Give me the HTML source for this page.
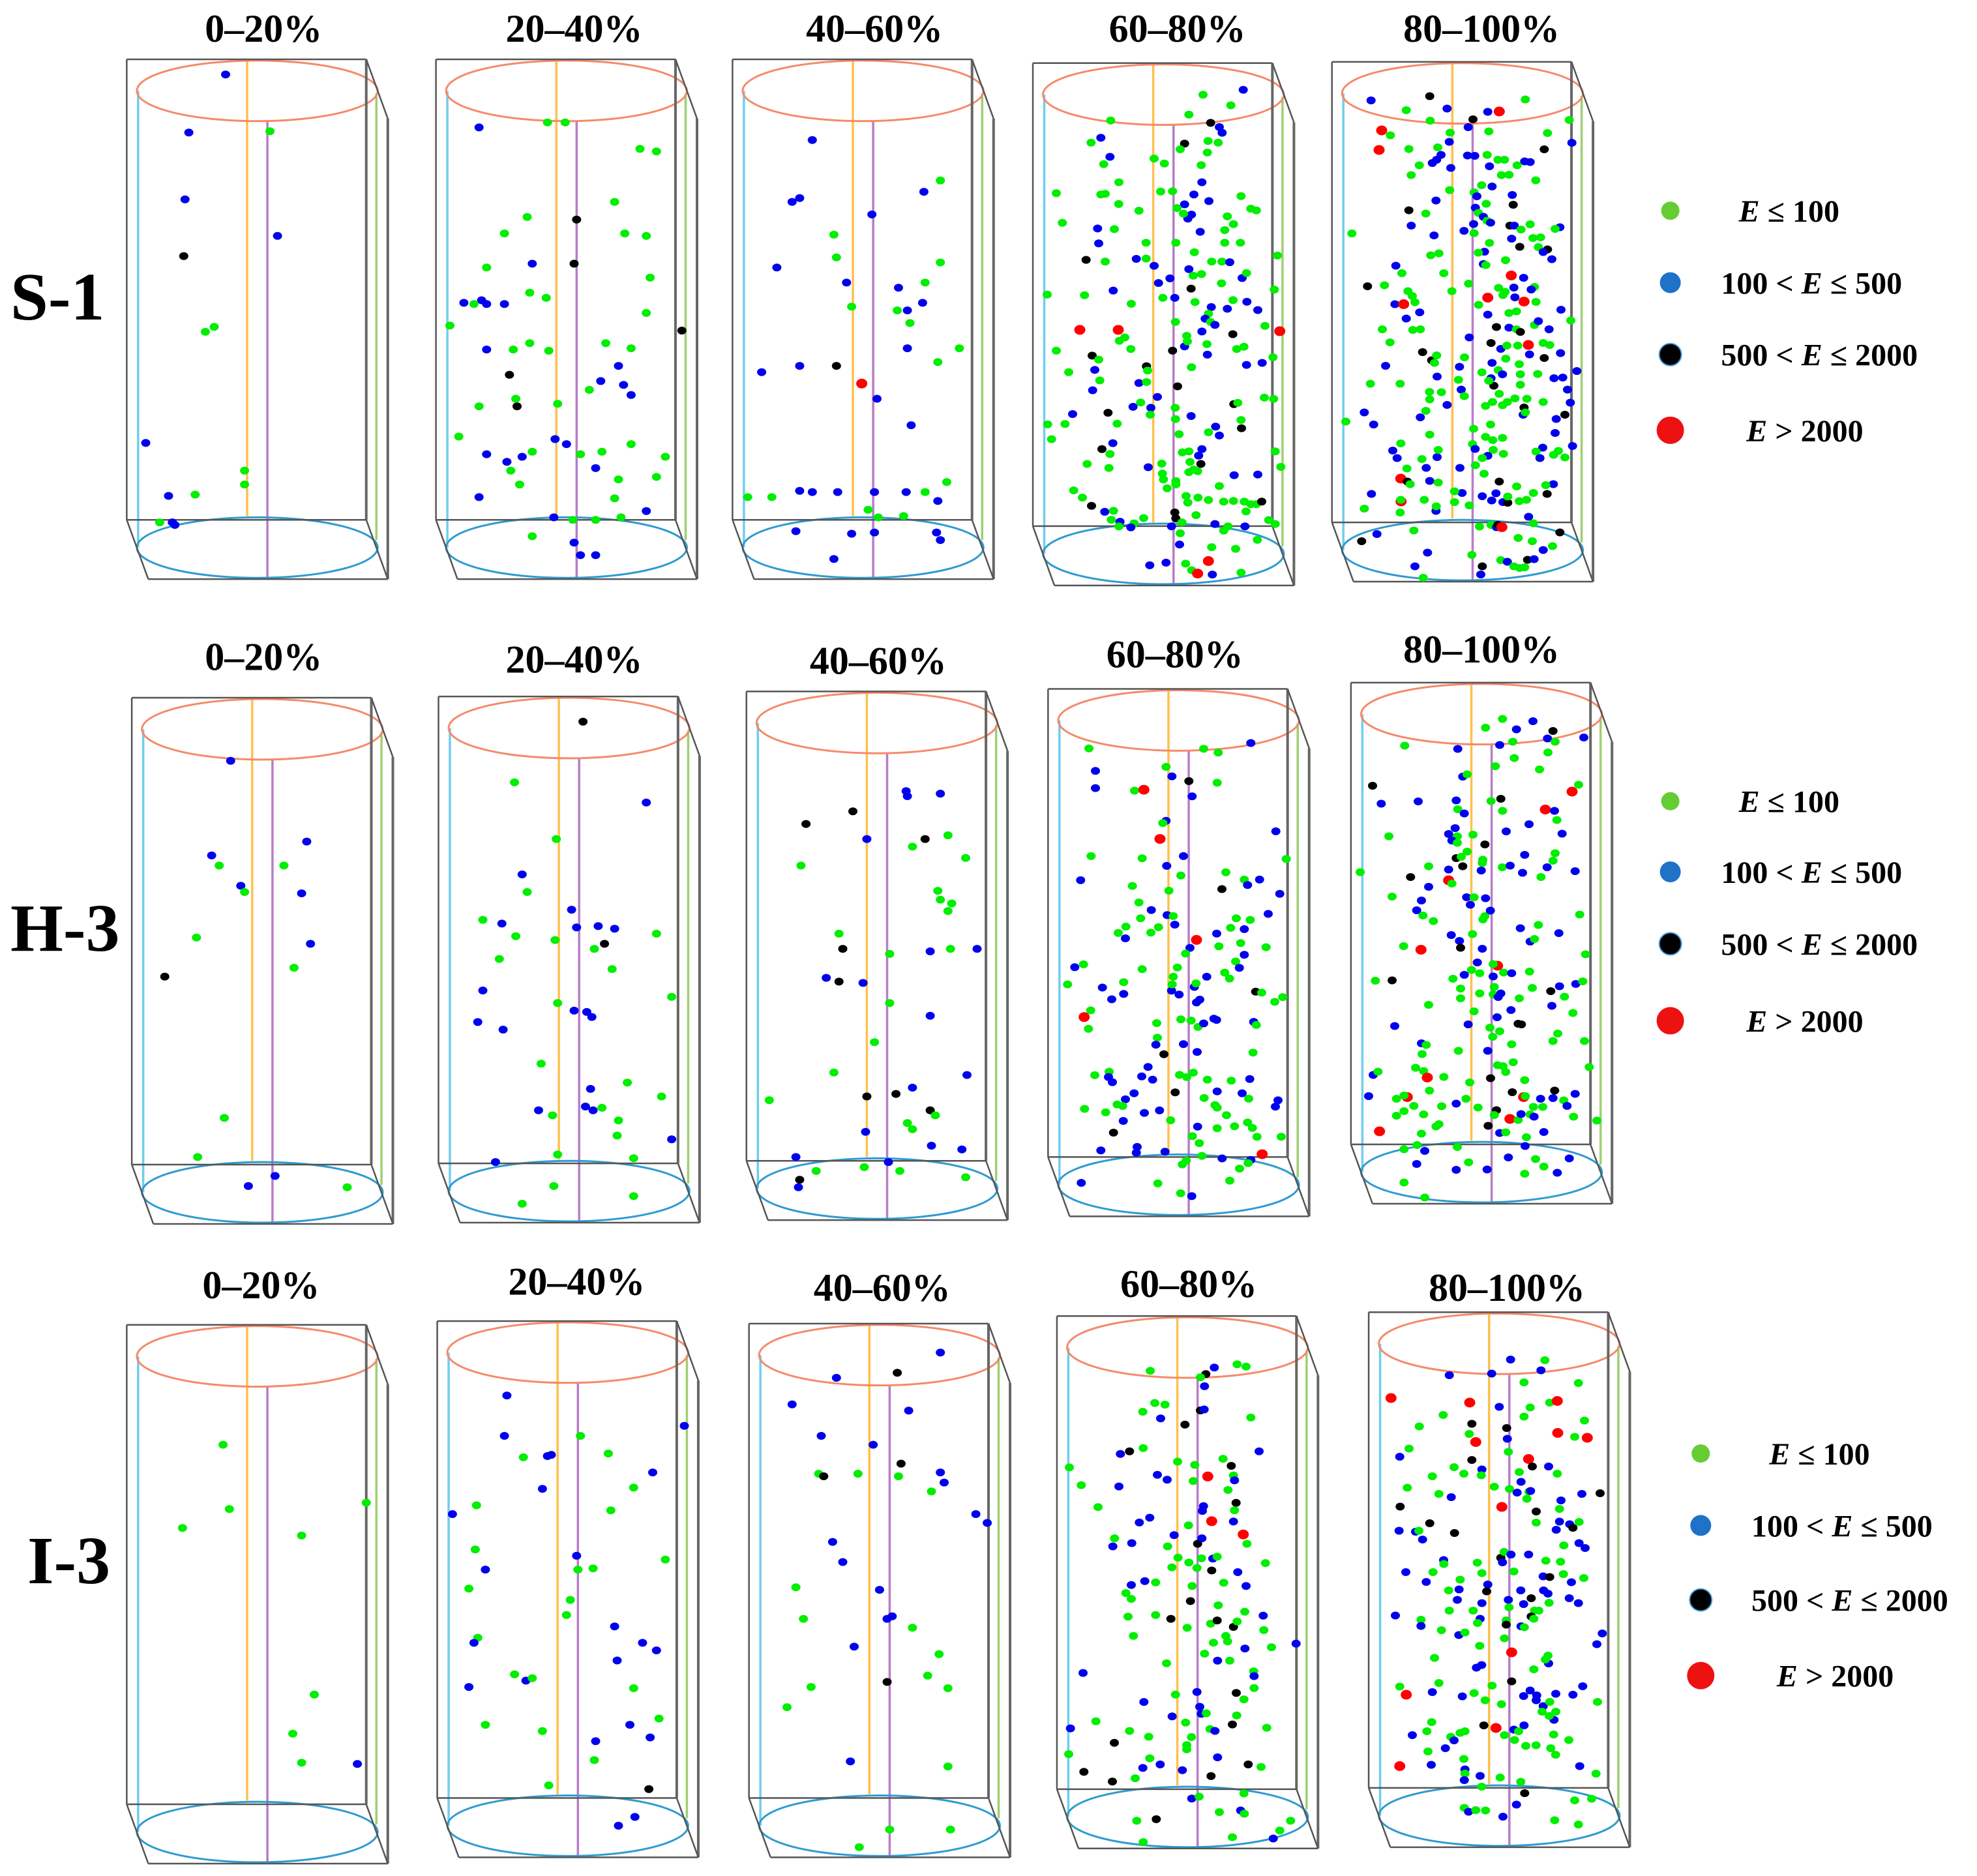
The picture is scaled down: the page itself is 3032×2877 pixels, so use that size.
<!DOCTYPE html>
<html><head><meta charset="utf-8"><title>Energy distribution of events</title>
<style>
html,body{margin:0;padding:0;background:#fff;}
svg{display:block;}
text{font-family:"Liberation Serif","DejaVu Serif",serif;font-weight:bold;fill:#000;}
</style></head>
<body>
<svg id="chart" xmlns="http://www.w3.org/2000/svg" width="3032" height="2877" viewBox="0 0 3032 2877">
<rect x="0" y="0" width="3032" height="2877" fill="#fff"/>
<g id="panels"></g>
<g id="labels">
<text x="16" y="490" font-size="104">S-1</text>
<text x="16" y="1458" font-size="104">H-3</text>
<text x="42" y="2428" font-size="104">I-3</text>
</g>
<g id="legends"></g>
</svg>
<script>
// ---- data (crop/display coordinates) ----
const s1a = [[178,59,'b'],[149,105,'b'],[213,104,'g'],[146,158,'b'],[219,187,'b'],[145,203,'k'],[162,263,'g'],[169,259,'g'],[115,351,'b'],[193,373,'g'],[193,384,'g'],[133,393,'b'],[154,392,'g'],[126,414,'g'],[136,414,'b'],[138,416,'b']];
const s1b = [[378,101,'b'],[432,97,'g'],[446,97,'g'],[505,118,'g'],[518,120,'g'],[485,160,'g'],[416,172,'g'],[455,174,'k'],[398,185,'g'],[493,185,'g'],[384,212,'g'],[420,209,'b'],[453,209,'k'],[510,187,'g'],[431,236,'g'],[513,220,'g'],[366,240,'b'],[380,238,'b'],[384,241,'b'],[398,241,'b'],[355,258,'g'],[374,241,'g'],[418,232,'g'],[510,248,'g'],[538,262,'k'],[384,277,'b'],[405,277,'g'],[418,272,'g'],[433,278,'g'],[478,272,'g'],[498,276,'g'],[488,290,'b'],[492,305,'b'],[402,297,'k'],[408,322,'k'],[378,322,'g'],[407,316,'g'],[440,320,'g'],[465,309,'g'],[474,302,'b'],[498,313,'b'],[362,346,'g'],[438,348,'b'],[447,352,'b'],[420,358,'g'],[458,360,'g'],[475,358,'g'],[525,362,'g'],[498,352,'g'],[384,360,'b'],[400,366,'b'],[412,362,'b'],[403,373,'g'],[410,384,'g'],[378,394,'b'],[470,371,'b'],[488,380,'g'],[518,378,'g'],[485,395,'g'],[437,410,'b'],[452,412,'g'],[470,412,'g'],[490,410,'g'],[510,405,'b'],[420,425,'g'],[453,430,'b'],[458,440,'b'],[470,440,'b']];
const s1c = [[641,111,'b'],[625,160,'b'],[631,157,'b'],[742,143,'g'],[729,152,'b'],[688,170,'b'],[658,186,'g'],[660,204,'g'],[613,212,'b'],[742,208,'g'],[668,224,'b'],[709,228,'b'],[728,240,'b'],[672,243,'g'],[708,246,'g'],[716,246,'b'],[730,224,'g'],[718,256,'g'],[757,276,'g'],[601,295,'b'],[631,290,'b'],[660,290,'k'],[680,304,'r'],[692,316,'b'],[740,287,'g'],[716,276,'b'],[719,337,'b'],[590,394,'g'],[609,394,'g'],[631,389,'b'],[641,390,'b'],[661,390,'b'],[690,390,'b'],[715,390,'b'],[730,390,'g'],[747,382,'g'],[740,397,'b'],[685,404,'g'],[693,410,'g'],[628,421,'b'],[658,443,'b'],[672,423,'b'],[690,422,'b'],[739,422,'b'],[742,428,'b'],[713,409,'g']];
const s1d = [[765,50,'g'],[950,35,'b'],[893,82,'g'],[700,110,'g'],[800,135,'k'],[840,148,'b'],[853,165,'b'],[340,128,'g'],[295,180,'b'],[250,195,'g'],[680,198,'k'],[660,215,'g'],[788,190,'g'],[835,195,'g'],[785,225,'g'],[337,238,'b'],[308,260,'g'],[540,243,'g'],[587,258,'g'],[757,263,'g'],[378,315,'g'],[760,315,'b'],[90,348,'g'],[295,352,'g'],[315,350,'g'],[570,343,'g'],[625,342,'g'],[723,352,'b'],[792,372,'b'],[940,357,'g'],[377,381,'g'],[680,382,'b'],[645,393,'g'],[470,401,'g'],[712,413,'b'],[695,425,'b'],[675,410,'g'],[985,395,'g'],[1010,400,'g'],[118,438,'g'],[877,418,'g'],[905,442,'g'],[280,455,'b'],[357,457,'g'],[752,465,'b'],[865,460,'g'],[285,500,'b'],[503,498,'g'],[640,498,'g'],[865,498,'g'],[937,498,'g'],[725,527,'g'],[227,550,'k'],[315,555,'g'],[458,547,'b'],[503,546,'g'],[540,568,'b'],[805,555,'g'],[852,555,'g'],[888,557,'b'],[1107,537,'g'],[700,578,'b'],[720,598,'g'],[758,593,'g'],[613,606,'b'],[560,620,'b'],[945,605,'b'],[965,590,'g'],[850,621,'g'],[710,637,'k'],[1093,640,'g'],[48,655,'g'],[220,657,'g'],[352,643,'b'],[580,665,'g'],[635,665,'b'],[435,683,'g'],[728,678,'g'],[903,672,'g'],[967,677,'b'],[1017,702,'b'],[877,698,'b'],[803,693,'b'],[790,713,'g'],[775,728,'b'],[800,738,'g'],[820,747,'b'],[638,738,'g'],[1050,750,'g'],[198,762,'r'],[375,762,'r'],[1118,766,'r'],[760,767,'b'],[902,775,'k'],[690,780,'g'],[380,795,'g'],[405,785,'g'],[433,820,'g'],[90,825,'g'],[680,812,'b'],[693,797,'g'],[783,805,'g'],[920,820,'g'],[953,813,'g'],[625,825,'k'],[255,840,'k'],[285,852,'g'],[785,837,'b'],[1087,845,'g'],[965,868,'b'],[1037,862,'b'],[147,890,'g'],[267,883,'b'],[505,872,'k'],[510,885,'g'],[712,875,'g'],[290,915,'g'],[470,923,'b'],[505,920,'g'],[257,945,'b'],[648,933,'k'],[555,965,'b'],[478,982,'g'],[443,995,'b'],[525,998,'b'],[637,998,'g'],[907,987,'k'],[925,983,'g'],[1047,967,'g'],[1090,971,'g'],[328,1013,'k'],[165,1017,'b'],[522,1019,'g'],[638,1032,'g'],[710,1023,'b'],[940,1035,'g'],[50,1048,'g'],[130,1047,'g'],[370,1046,'g'],[823,1055,'b'],[840,1082,'b'],[790,1072,'g'],[942,1060,'k'],[68,1093,'g'],[350,1105,'b'],[655,1078,'g'],[300,1123,'k'],[337,1138,'g'],[670,1133,'g'],[700,1130,'g'],[760,1123,'b'],[745,1143,'b'],[1097,1130,'g'],[232,1168,'g'],[332,1180,'g'],[513,1178,'b'],[575,1167,'g'],[705,1162,'g'],[755,1168,'k'],[722,1185,'g'],[700,1193,'g'],[740,1190,'g'],[578,1197,'g'],[583,1215,'g'],[640,1220,'g'],[640,1230,'g'],[908,1202,'b'],[1017,1200,'b'],[1123,1177,'g'],[840,1235,'g'],[170,1248,'g'],[210,1270,'g'],[600,1242,'g'],[687,1265,'g'],[742,1270,'g'],[790,1277,'g'],[860,1282,'g'],[905,1280,'g'],[955,1282,'g'],[985,1290,'g'],[1010,1290,'g'],[1035,1282,'k'],[252,1295,'k'],[313,1313,'b'],[353,1310,'g'],[695,1285,'g'],[635,1315,'k'],[640,1333,'k'],[963,1312,'g'],[733,1323,'g'],[343,1337,'g'],[383,1343,'b'],[492,1332,'g'],[448,1348,'g'],[433,1360,'b'],[620,1357,'b'],[668,1345,'g'],[378,1357,'g'],[820,1350,'b'],[860,1370,'g'],[880,1357,'g'],[958,1357,'b'],[1067,1338,'g'],[1097,1350,'g'],[660,1378,'g'],[657,1412,'b'],[1015,1398,'g'],[805,1420,'g'],[915,1425,'g'],[790,1462,'r'],[520,1475,'b'],[595,1467,'b'],[685,1470,'g'],[713,1490,'g'],[740,1500,'r'],[808,1503,'b'],[940,1497,'g']];
const s1e = [[128,68,'b'],[398,55,'k'],[290,98,'g'],[478,93,'b'],[838,65,'g'],[665,103,'b'],[718,102,'r'],[597,126,'k'],[400,130,'g'],[1040,128,'g'],[177,160,'r'],[217,175,'g'],[575,150,'b'],[492,167,'g'],[670,163,'g'],[940,168,'g'],[165,220,'r'],[302,217,'g'],[488,195,'b'],[435,212,'g'],[925,218,'k'],[1052,198,'b'],[450,235,'b'],[410,260,'b'],[430,250,'b'],[350,267,'g'],[495,275,'b'],[572,237,'b'],[605,238,'b'],[662,235,'g'],[712,250,'g'],[742,250,'g'],[673,270,'b'],[835,255,'b'],[860,257,'b'],[800,267,'g'],[313,297,'g'],[728,297,'g'],[763,296,'g'],[886,313,'g'],[490,343,'g'],[637,328,'g'],[685,332,'b'],[602,350,'g'],[615,362,'b'],[778,358,'b'],[427,375,'b'],[302,405,'k'],[782,388,'k'],[658,385,'g'],[608,397,'b'],[380,415,'g'],[622,413,'g'],[645,425,'b'],[313,452,'b'],[662,437,'g'],[600,447,'b'],[678,443,'b'],[767,452,'k'],[787,452,'b'],[860,448,'g'],[40,476,'g'],[418,482,'b'],[556,468,'b'],[602,475,'g'],[818,464,'g'],[775,492,'b'],[873,490,'g'],[908,488,'g'],[997,457,'b'],[975,462,'g'],[673,505,'g'],[812,517,'k'],[898,518,'g'],[940,525,'k'],[920,533,'b'],[960,555,'b'],[650,532,'b'],[622,535,'g'],[403,543,'g'],[440,537,'g'],[747,558,'g'],[242,575,'b'],[270,598,'g'],[645,570,'b'],[656,573,'g'],[463,598,'g'],[773,605,'r'],[830,612,'b'],[112,638,'k'],[190,635,'g'],[577,630,'g'],[298,653,'g'],[500,653,'g'],[715,643,'g'],[785,642,'b'],[745,655,'g'],[880,640,'g'],[865,648,'b'],[238,693,'b'],[278,693,'r'],[318,668,'g'],[330,687,'g'],[665,673,'r'],[735,665,'g'],[790,672,'b'],[832,685,'r'],[887,686,'g'],[623,695,'g'],[352,718,'b'],[290,737,'b'],[665,725,'b'],[763,720,'g'],[797,715,'g'],[1002,710,'b'],[1047,743,'g'],[180,770,'g'],[320,772,'g'],[355,770,'g'],[580,795,'b'],[705,763,'k'],[763,765,'b'],[797,770,'g'],[815,778,'k'],[880,757,'g'],[898,745,'b'],[947,770,'b'],[215,810,'g'],[365,840,'k'],[680,812,'k'],[725,830,'b'],[753,820,'g'],[803,820,'g'],[852,818,'r'],[920,812,'g'],[950,818,'g'],[857,847,'b'],[1000,843,'b'],[925,858,'k'],[407,865,'k'],[420,873,'g'],[430,850,'g'],[558,856,'g'],[195,882,'b'],[535,885,'b'],[685,873,'b'],[713,895,'g'],[733,908,'b'],[638,902,'g'],[810,877,'g'],[748,860,'g'],[1075,898,'b'],[125,937,'g'],[262,937,'g'],[432,915,'b'],[530,925,'g'],[680,920,'b'],[693,943,'k'],[670,928,'g'],[815,908,'g'],[815,940,'g'],[895,907,'g'],[970,920,'b'],[1010,918,'b'],[1032,955,'b'],[397,962,'g'],[452,963,'g'],[543,955,'b'],[557,975,'g'],[718,968,'g'],[398,985,'g'],[687,993,'g'],[655,1005,'g'],[733,1003,'g'],[755,993,'g'],[790,982,'g'],[845,983,'g'],[828,1032,'b'],[832,1010,'k'],[838,1025,'g'],[920,993,'g'],[1045,995,'b'],[1020,1032,'k'],[97,1025,'b'],[12,1053,'g'],[140,1062,'b'],[355,1040,'b'],[380,1020,'g'],[478,1002,'b'],[980,1045,'b'],[600,1075,'g'],[678,1062,'g'],[975,1088,'b'],[398,1093,'g'],[655,1100,'g'],[688,1110,'g'],[733,1103,'g'],[595,1122,'g'],[607,1137,'b'],[690,1140,'g'],[737,1152,'g'],[665,1158,'b'],[640,1165,'g'],[1055,1128,'b'],[918,1133,'b'],[887,1145,'g'],[905,1165,'b'],[968,1155,'g'],[990,1143,'g'],[1020,1163,'g'],[228,1142,'b'],[248,1165,'b'],[265,1120,'g'],[362,1168,'g'],[432,1162,'b'],[437,1140,'g'],[382,1195,'b'],[537,1195,'b'],[293,1197,'g'],[608,1187,'g'],[648,1213,'g'],[265,1228,'r'],[295,1237,'k'],[308,1245,'g'],[398,1235,'b'],[437,1240,'g'],[718,1237,'k'],[798,1252,'g'],[967,1245,'b'],[932,1248,'g'],[938,1275,'k'],[130,1275,'b'],[547,1272,'b'],[512,1267,'g'],[640,1282,'b'],[703,1273,'b'],[683,1295,'b'],[735,1300,'b'],[757,1302,'k'],[757,1283,'g'],[810,1297,'g'],[843,1293,'g'],[875,1272,'g'],[266,1298,'r'],[265,1293,'g'],[373,1293,'g'],[512,1300,'g'],[580,1310,'g'],[427,1327,'b'],[428,1313,'g'],[97,1320,'g'],[262,1332,'g'],[853,1345,'b'],[875,1365,'g'],[627,1375,'g'],[680,1370,'g'],[705,1377,'b'],[712,1370,'k'],[730,1377,'r'],[325,1387,'g'],[155,1398,'b'],[85,1420,'k'],[997,1393,'k'],[805,1410,'g'],[870,1420,'g'],[963,1435,'g'],[920,1447,'b'],[388,1455,'b'],[592,1462,'g'],[725,1478,'g'],[755,1483,'b'],[785,1497,'g'],[812,1502,'g'],[835,1500,'g'],[848,1477,'k'],[878,1475,'b'],[330,1497,'b'],[368,1532,'g'],[640,1497,'k'],[633,1522,'b']];
const h3a = [[182,603,'b'],[167,678,'b'],[173,686,'g'],[190,702,'b'],[193,707,'g'],[242,667,'b'],[224,686,'g'],[238,708,'b'],[245,748,'b'],[155,743,'g'],[232,767,'g'],[130,774,'k'],[177,886,'g'],[156,917,'g'],[196,940,'b'],[217,932,'b'],[274,941,'g']];
const h3b = [[460,572,'k'],[406,620,'g'],[510,636,'b'],[439,665,'g'],[412,693,'b'],[381,729,'g'],[396,732,'b'],[416,707,'g'],[407,742,'g'],[394,760,'g'],[451,721,'b'],[455,735,'b'],[438,745,'g'],[472,734,'b'],[485,736,'b'],[477,748,'k'],[469,752,'g'],[483,768,'g'],[518,740,'g'],[381,785,'b'],[377,810,'b'],[397,816,'b'],[453,801,'b'],[463,802,'b'],[467,806,'b'],[440,795,'g'],[530,790,'g'],[427,843,'g'],[466,863,'b'],[495,858,'g'],[522,869,'g'],[425,880,'b'],[436,884,'g'],[462,877,'b'],[468,880,'b'],[475,878,'g'],[488,888,'g'],[487,900,'g'],[530,903,'b'],[440,915,'g'],[391,921,'b'],[437,940,'g'],[500,918,'g'],[500,948,'g'],[412,954,'g']];
const h3c = [[715,627,'b'],[716,631,'b'],[742,629,'b'],[673,643,'k'],[636,653,'k'],[684,665,'b'],[730,665,'k'],[720,671,'g'],[748,662,'g'],[762,680,'g'],[632,686,'g'],[740,706,'g'],[742,713,'g'],[748,722,'g'],[751,716,'g'],[662,740,'g'],[665,752,'k'],[652,775,'b'],[662,778,'k'],[681,779,'b'],[702,756,'g'],[734,754,'b'],[750,752,'g'],[771,752,'b'],[702,795,'g'],[734,805,'b'],[690,826,'g'],[658,850,'g'],[763,852,'b'],[707,867,'k'],[720,862,'b'],[684,869,'k'],[734,880,'k'],[738,884,'g'],[716,890,'g'],[720,895,'g'],[683,897,'b'],[607,872,'g'],[735,908,'b'],[628,917,'b'],[631,935,'k'],[630,941,'b'],[644,928,'g'],[682,925,'g'],[710,928,'g'],[701,921,'b'],[762,933,'g'],[759,911,'b']];
const h3d = [[210,57,'g'],[738,58,'g'],[805,70,'g'],[955,40,'b'],[240,128,'b'],[565,115,'g'],[592,145,'b'],[670,160,'k'],[800,165,'g'],[240,182,'b'],[420,190,'g'],[463,187,'r'],[685,208,'b'],[565,285,'b'],[550,292,'g'],[537,342,'r'],[1070,318,'b'],[220,396,'g'],[455,403,'g'],[645,396,'b'],[568,427,'b'],[1118,405,'g'],[633,457,'g'],[840,447,'g'],[172,472,'b'],[925,470,'g'],[940,487,'b'],[995,470,'b'],[822,500,'k'],[410,490,'g'],[578,505,'g'],[1088,515,'b'],[440,542,'g'],[497,566,'b'],[570,582,'b'],[598,585,'g'],[605,612,'b'],[448,592,'g'],[380,618,'g'],[345,638,'g'],[378,655,'b'],[495,637,'g'],[530,620,'g'],[1035,578,'b'],[888,592,'g'],[952,597,'g'],[862,622,'g'],[925,626,'b'],[798,640,'b'],[705,660,'r'],[675,685,'b'],[655,703,'g'],[808,680,'g'],[908,670,'g'],[1025,683,'g'],[925,707,'b'],[885,728,'g'],[902,748,'b'],[145,746,'b'],[185,737,'g'],[455,752,'g'],[617,747,'g'],[598,776,'g'],[752,776,'b'],[835,763,'g'],[857,782,'g'],[112,800,'g'],[272,810,'b'],[370,793,'g'],[315,847,'b'],[370,830,'b'],[590,820,'b'],[593,800,'g'],[625,832,'b'],[695,808,'b'],[703,797,'g'],[705,857,'b'],[720,848,'b'],[977,823,'k'],[1005,826,'g'],[1065,855,'g'],[1102,840,'g'],[188,903,'r'],[218,882,'g'],[208,940,'g'],[522,922,'g'],[633,910,'g'],[680,914,'g'],[712,934,'g'],[738,923,'b'],[785,908,'b'],[797,912,'b'],[968,918,'b'],[980,928,'g'],[525,968,'g'],[518,990,'b'],[645,988,'b'],[555,1020,'k'],[708,1013,'b'],[965,1015,'g'],[237,1086,'g'],[303,1075,'g'],[300,1092,'b'],[318,1108,'b'],[482,1060,'b'],[453,1090,'b'],[503,1100,'b'],[627,1085,'g'],[660,1092,'g'],[690,1078,'g'],[755,1100,'g'],[865,1103,'g'],[950,1098,'b'],[607,1140,'k'],[418,1143,'b'],[378,1162,'b'],[800,1137,'b'],[915,1143,'b'],[945,1160,'g'],[740,1158,'g'],[790,1180,'g'],[800,1188,'g'],[1080,1165,'b'],[1068,1185,'b'],[190,1192,'g'],[287,1203,'g'],[340,1178,'g'],[365,1183,'g'],[465,1205,'b'],[535,1197,'b'],[586,1228,'g'],[843,1212,'g'],[368,1230,'b'],[710,1248,'b'],[800,1253,'g'],[880,1247,'g'],[940,1235,'g'],[962,1252,'g'],[323,1267,'k'],[686,1278,'g'],[718,1300,'g'],[983,1280,'g'],[1095,1280,'g'],[265,1323,'b'],[432,1312,'b'],[428,1330,'b'],[560,1327,'b'],[1007,1335,'r'],[730,1340,'g'],[823,1348,'b'],[955,1353,'b'],[943,1363,'g'],[640,1367,'g'],[658,1355,'g'],[903,1380,'g'],[175,1425,'b'],[527,1427,'g'],[858,1418,'g'],[632,1458,'g'],[683,1467,'b']];
const h3e = [[625,32,'g'],[703,5,'g'],[767,37,'b'],[843,12,'b'],[935,42,'k'],[910,65,'b'],[945,75,'g'],[1077,62,'b'],[253,87,'g'],[497,97,'b'],[690,85,'b'],[750,75,'g'],[912,108,'g'],[757,125,'g'],[670,150,'g'],[873,160,'g'],[520,182,'b'],[540,175,'g'],[105,210,'k'],[1023,228,'r'],[1053,207,'g'],[145,265,'b'],[315,258,'b'],[490,255,'b'],[497,282,'g'],[527,295,'b'],[650,257,'g'],[695,250,'k'],[703,287,'g'],[900,283,'r'],[942,287,'b'],[953,315,'g'],[825,328,'b'],[720,350,'b'],[977,357,'b'],[180,365,'g'],[485,340,'b'],[455,358,'b'],[495,365,'g'],[470,378,'b'],[495,385,'g'],[567,360,'g'],[622,390,'k'],[490,432,'k'],[513,428,'g'],[540,412,'g'],[520,457,'k'],[612,437,'g'],[610,447,'g'],[605,470,'b'],[455,467,'b'],[363,457,'g'],[702,460,'g'],[738,455,'b'],[805,422,'b'],[795,477,'b'],[945,417,'g'],[935,440,'g'],[908,460,'b'],[880,490,'g'],[1037,472,'b'],[48,475,'g'],[280,490,'k'],[455,500,'r'],[470,510,'g'],[363,520,'b'],[195,550,'g'],[330,562,'b'],[538,552,'b'],[572,552,'g'],[625,555,'b'],[555,575,'b'],[308,592,'b'],[337,608,'g'],[385,625,'g'],[613,620,'g'],[622,610,'g'],[647,593,'b'],[1058,605,'g'],[785,647,'b'],[868,637,'g'],[962,662,'b'],[830,688,'b'],[850,680,'g'],[467,668,'b'],[505,686,'b'],[510,707,'k'],[565,665,'g'],[610,710,'b'],[248,702,'g'],[328,713,'r'],[1085,727,'g'],[587,752,'b'],[680,762,'r'],[660,757,'g'],[527,790,'b'],[560,775,'g'],[598,785,'g'],[660,795,'b'],[708,783,'g'],[745,785,'b'],[827,780,'g'],[118,808,'g'],[195,807,'k'],[475,802,'g'],[510,832,'g'],[598,847,'g'],[510,862,'g'],[665,827,'g'],[660,850,'g'],[683,858,'b'],[695,847,'b'],[840,830,'g'],[925,840,'k'],[965,825,'b'],[1040,818,'b'],[1072,810,'g'],[988,857,'g'],[930,885,'b'],[1027,907,'g'],[363,882,'g'],[572,902,'g'],[742,898,'b'],[678,920,'b'],[790,942,'k'],[775,940,'k'],[780,862,'g'],[207,947,'b'],[545,942,'b'],[645,952,'g'],[658,980,'g'],[690,963,'g'],[957,970,'g'],[935,993,'g'],[745,1003,'g'],[1080,993,'g'],[330,1000,'b'],[352,1005,'g'],[333,1033,'g'],[500,1023,'g'],[635,1023,'b'],[303,1075,'g'],[340,1085,'g'],[108,1097,'b'],[130,1087,'g'],[357,1105,'r'],[433,1103,'g'],[680,1067,'g'],[705,1070,'g'],[718,1088,'g'],[752,1058,'g'],[648,1107,'k'],[805,1113,'g'],[1102,1073,'g'],[367,1145,'g'],[552,1120,'g'],[87,1162,'b'],[215,1170,'g'],[265,1165,'r'],[250,1160,'g'],[748,1150,'k'],[800,1165,'r'],[808,1162,'g'],[878,1170,'b'],[935,1168,'b'],[943,1145,'k'],[1037,1155,'b'],[985,1175,'g'],[1000,1192,'b'],[490,1185,'b'],[535,1170,'g'],[590,1197,'g'],[423,1193,'g'],[295,1192,'g'],[250,1208,'g'],[215,1222,'g'],[340,1218,'g'],[675,1205,'k'],[665,1220,'g'],[737,1232,'r'],[775,1235,'g'],[788,1217,'b'],[830,1218,'g'],[848,1225,'b'],[845,1195,'g'],[888,1195,'g'],[1030,1225,'g'],[1137,1237,'g'],[137,1270,'r'],[637,1253,'k'],[690,1275,'b'],[718,1273,'g'],[893,1272,'b'],[813,1288,'g'],[807,1315,'b'],[330,1277,'g'],[397,1255,'g'],[410,1248,'g'],[250,1325,'g'],[310,1312,'g'],[345,1330,'b'],[495,1318,'g'],[308,1370,'b'],[490,1388,'b'],[547,1365,'g'],[632,1387,'b'],[730,1350,'b'],[855,1355,'g'],[893,1378,'g'],[1010,1353,'b'],[805,1400,'g'],[955,1397,'b'],[250,1427,'g'],[345,1473,'g']];
const i3a = [[176,1145,'g'],[181,1196,'g'],[144,1211,'g'],[238,1217,'g'],[289,1191,'g'],[248,1343,'g'],[231,1374,'g'],[238,1397,'g'],[282,1398,'b']];
const i3b = [[400,1106,'b'],[540,1130,'b'],[398,1138,'b'],[413,1155,'g'],[432,1154,'b'],[435,1153,'b'],[458,1138,'g'],[480,1152,'g'],[428,1180,'b'],[515,1167,'b'],[500,1179,'g'],[357,1200,'b'],[376,1193,'g'],[482,1197,'g'],[375,1228,'g'],[383,1244,'b'],[455,1233,'b'],[456,1244,'g'],[468,1243,'g'],[525,1236,'g'],[370,1259,'g'],[450,1268,'g'],[447,1280,'g'],[485,1289,'b'],[377,1298,'g'],[374,1302,'b'],[507,1302,'b'],[518,1308,'b'],[487,1316,'b'],[406,1327,'g'],[415,1332,'b'],[420,1330,'g'],[370,1337,'b'],[500,1338,'g'],[383,1367,'g'],[428,1372,'g'],[520,1362,'g'],[497,1367,'b'],[470,1380,'b'],[513,1377,'b'],[469,1395,'g'],[433,1415,'g'],[512,1418,'k'],[488,1447,'b'],[501,1440,'b']];
const i3c = [[660,1092,'b'],[708,1088,'k'],[742,1072,'b'],[625,1113,'b'],[717,1118,'b'],[648,1138,'b'],[689,1145,'b'],[646,1168,'g'],[650,1170,'k'],[711,1160,'k'],[677,1168,'g'],[709,1170,'g'],[742,1167,'b'],[745,1175,'b'],[735,1182,'g'],[770,1200,'b'],[779,1207,'b'],[657,1222,'b'],[665,1238,'b'],[694,1260,'b'],[628,1258,'g'],[634,1283,'g'],[704,1281,'b'],[700,1283,'b'],[720,1290,'g'],[674,1305,'b'],[741,1311,'g'],[732,1328,'g'],[700,1333,'k'],[748,1338,'g'],[640,1337,'g'],[621,1353,'g'],[671,1396,'b'],[748,1400,'g'],[702,1450,'g'],[678,1464,'g'],[750,1450,'g']];
const i3d = [[462,45,'g'],[757,35,'b'],[718,55,'k'],[693,65,'g'],[862,25,'g'],[903,32,'g'],[712,93,'b'],[483,145,'g'],[530,150,'g'],[428,172,'g'],[510,193,'b'],[693,168,'k'],[710,165,'b'],[622,212,'k'],[925,190,'g'],[325,303,'b'],[367,295,'k'],[430,285,'g'],[963,295,'b'],[90,345,'g'],[588,327,'g'],[667,337,'g'],[797,318,'g'],[835,340,'k'],[727,373,'r'],[845,370,'g'],[850,385,'b'],[660,387,'g'],[495,368,'b'],[540,383,'b'],[145,400,'g'],[318,404,'b'],[820,415,'g'],[222,468,'g'],[707,465,'b'],[702,480,'b'],[857,455,'k'],[850,478,'g'],[412,516,'b'],[460,501,'b'],[638,525,'g'],[745,512,'r'],[845,513,'b'],[572,555,'b'],[298,565,'g'],[290,590,'b'],[377,580,'b'],[542,590,'g'],[680,582,'k'],[700,565,'b'],[890,553,'r'],[907,582,'g'],[590,625,'g'],[640,640,'g'],[698,627,'g'],[562,655,'g'],[677,657,'g'],[750,628,'b'],[770,622,'g'],[745,665,'k'],[865,670,'b'],[992,642,'g'],[375,710,'b'],[437,698,'b'],[487,702,'g'],[350,735,'g'],[375,753,'g'],[655,713,'g'],[800,703,'g'],[903,713,'b'],[647,760,'k'],[775,773,'g'],[360,808,'g'],[487,803,'g'],[557,815,'k'],[632,843,'g'],[740,830,'g'],[770,820,'k'],[845,840,'k'],[862,823,'g'],[897,793,'g'],[982,805,'b'],[985,850,'g'],[385,868,'g'],[810,868,'g'],[818,885,'g'],[753,889,'g'],[898,907,'b'],[1020,903,'g'],[1133,892,'b'],[712,923,'g'],[772,945,'b'],[828,945,'g'],[537,953,'g'],[153,983,'b'],[938,978,'g'],[940,993,'b'],[940,1030,'g'],[858,1045,'k'],[677,1042,'b'],[578,1050,'g'],[893,1065,'g'],[433,1073,'b'],[690,1088,'b'],[697,1110,'b'],[720,1108,'g'],[860,1115,'g'],[563,1118,'b'],[840,1143,'k'],[625,1137,'g'],[95,1155,'b'],[212,1133,'g'],[367,1163,'g'],[455,1181,'g'],[652,1182,'g'],[737,1157,'g'],[760,1163,'b'],[998,1153,'g'],[297,1200,'k'],[630,1207,'g'],[630,1220,'g'],[87,1235,'g'],[460,1248,'g'],[508,1267,'b'],[428,1278,'b'],[610,1285,'b'],[772,1245,'b'],[913,1267,'k'],[972,1275,'g'],[157,1290,'k'],[288,1320,'k'],[393,1310,'g'],[742,1303,'k'],[653,1373,'b'],[687,1367,'g'],[893,1357,'g'],[780,1415,'g'],[878,1410,'b'],[895,1420,'g'],[400,1442,'g'],[490,1437,'k'],[1108,1442,'g'],[1058,1472,'g'],[840,1493,'g'],[1028,1497,'b'],[430,1508,'g']];
const i3e = [[650,30,'b'],[808,32,'g'],[790,63,'b'],[368,78,'b'],[563,73,'b'],[712,100,'g'],[962,102,'g'],[100,148,'r'],[462,162,'r'],[598,175,'b'],[740,177,'g'],[712,205,'g'],[830,162,'g'],[865,157,'r'],[340,200,'g'],[230,235,'g'],[990,217,'g'],[472,227,'k'],[460,258,'g'],[490,283,'r'],[632,240,'k'],[635,273,'b'],[867,255,'r'],[945,267,'g'],[1003,270,'r'],[183,303,'g'],[140,328,'b'],[640,313,'g'],[472,338,'k'],[733,335,'r'],[750,358,'k'],[825,358,'b'],[865,380,'g'],[390,360,'g'],[290,388,'g'],[435,380,'g'],[518,367,'b'],[515,385,'g'],[690,375,'g'],[698,405,'b'],[175,423,'g'],[320,442,'g'],[377,452,'b'],[575,420,'g'],[645,427,'g'],[680,438,'b'],[735,435,'g'],[725,457,'g'],[742,433,'b'],[1062,440,'k'],[978,442,'b'],[882,462,'b'],[875,488,'g'],[142,481,'k'],[610,482,'r'],[768,496,'k'],[768,530,'g'],[875,527,'b'],[860,552,'b'],[922,535,'b'],[937,546,'k'],[965,528,'g'],[137,555,'b'],[213,558,'b'],[228,555,'g'],[245,582,'b'],[278,532,'k'],[392,562,'k'],[895,600,'g'],[965,593,'b'],[993,608,'b'],[605,638,'k'],[620,620,'g'],[652,628,'b'],[613,652,'b'],[733,628,'b'],[342,645,'b'],[343,657,'g'],[497,653,'g'],[518,685,'g'],[665,680,'g'],[812,647,'g'],[880,650,'g'],[168,682,'b'],[293,682,'g'],[262,712,'b'],[800,695,'b'],[830,697,'k'],[893,688,'g'],[987,700,'g'],[930,713,'b'],[418,705,'g'],[365,738,'g'],[413,735,'b'],[545,720,'b'],[540,741,'k'],[697,738,'b'],[802,738,'b'],[822,748,'b'],[745,762,'k'],[405,767,'b'],[518,777,'b'],[640,767,'b'],[643,790,'g'],[710,780,'b'],[827,776,'g'],[920,762,'b'],[962,777,'b'],[120,815,'b'],[238,828,'g'],[238,847,'b'],[368,800,'g'],[478,800,'g'],[510,825,'b'],[498,838,'g'],[630,830,'g'],[630,843,'k'],[760,800,'g'],[780,800,'g'],[745,818,'k'],[757,825,'g'],[698,848,'b'],[713,851,'g'],[332,860,'g'],[412,875,'b'],[440,867,'g'],[622,885,'g'],[508,908,'g'],[1072,870,'b'],[1047,903,'b'],[655,928,'r'],[300,945,'g'],[493,975,'b'],[517,967,'b'],[822,938,'g'],[825,962,'b'],[810,950,'g'],[757,980,'g'],[655,1017,'k'],[140,1033,'g'],[170,1058,'r'],[320,1022,'g'],[290,1050,'b'],[428,1063,'b'],[482,1053,'g'],[533,1075,'g'],[565,1030,'g'],[608,1087,'g'],[710,1062,'b'],[740,1045,'b'],[770,1060,'b'],[768,1075,'b'],[800,1093,'b'],[830,1080,'g'],[795,1110,'g'],[858,1110,'g'],[850,1135,'b'],[828,1123,'g'],[858,1055,'b'],[937,1058,'b'],[982,1032,'b'],[1050,1080,'g'],[287,1142,'g'],[265,1170,'g'],[198,1182,'b'],[375,1187,'g'],[390,1198,'b'],[418,1175,'g'],[440,1170,'g'],[350,1222,'b'],[527,1152,'k'],[583,1160,'r'],[665,1165,'b'],[712,1152,'b'],[687,1170,'g'],[622,1182,'g'],[668,1197,'g'],[720,1215,'g'],[767,1213,'g'],[848,1180,'g'],[918,1197,'g'],[835,1222,'g'],[857,1242,'g'],[270,1232,'g'],[140,1277,'r'],[285,1273,'b'],[435,1255,'g'],[440,1287,'b'],[440,1300,'g'],[437,1320,'b'],[510,1307,'b'],[517,1340,'g'],[602,1312,'g'],[697,1325,'g'],[968,1277,'b'],[1043,1300,'g'],[715,1360,'k'],[945,1382,'g'],[1023,1377,'g'],[677,1395,'b'],[437,1405,'g'],[457,1417,'b'],[490,1412,'g'],[535,1413,'g'],[615,1432,'b'],[853,1443,'g'],[962,1456,'g']];

const panelTitles = ['0–20%','20–40%','40–60%','60–80%','80–100%'];
const rowNames = ['s1','h3','i3'];
const legendLabels = [['','E',' ≤ 100'],['100 < ','E',' ≤ 500'],['500 < ','E',' ≤ 2000'],['','E',' > 2000']];
const legendCats = ['g','b','k','r'];

// ---- layout (display units, scaled to full pixels) ----
const SX = 1.9436, SY = 1.935;
const DISP = {x0:0, y0:0, sx:SX, sy:SY};
function crop(x0,y0,sx,sy){ return {x0:x0,y0:y0,sx:sx,sy:sy}; }
const panels = [
 {row:0,col:0,L:100,T:47,H:365,ty:33,tx:208,pts:s1a,m:DISP},
 {row:0,col:1,L:344,T:47,H:365,ty:33,tx:453,pts:s1b,m:DISP},
 {row:0,col:2,L:578,T:47,H:365,ty:33,tx:690,pts:s1c,m:DISP},
 {row:0,col:3,L:815,T:50,H:367,ty:33,tx:929,pts:s1d,m:crop(1590,120,1/3,0.5064)},
 {row:0,col:4,L:1051,T:49,H:365,ty:33,tx:1169,pts:s1e,m:crop(2060,120,1/3,0.5)},
 {row:1,col:0,L:104,T:553,H:370,ty:531,tx:208,pts:h3a,m:DISP},
 {row:1,col:1,L:346,T:552,H:370,ty:533,tx:453,pts:h3b,m:DISP},
 {row:1,col:2,L:589,T:548,H:372,ty:534,tx:693,pts:h3c,m:DISP},
 {row:1,col:3,L:827,T:546,H:371,ty:529,tx:927,pts:h3d,m:crop(1600,1120,1/3,0.487)},
 {row:1,col:4,L:1066,T:541,H:366,ty:525,tx:1169,pts:h3e,m:crop(2070,1100,1/3,0.5)},
 {row:2,col:0,L:100,T:1050,H:380,ty:1029,tx:206,pts:i3a,m:DISP},
 {row:2,col:1,L:345,T:1047,H:378,ty:1026,tx:455,pts:i3b,m:DISP},
 {row:2,col:2,L:591,T:1049,H:376,ty:1031,tx:696,pts:i3c,m:DISP},
 {row:2,col:3,L:834,T:1043,H:375,ty:1028,tx:938,pts:i3d,m:crop(1610,2080,1/3,0.494)},
 {row:2,col:4,L:1080,T:1040,H:377,ty:1031,tx:1189,pts:i3e,m:crop(2100,2070,1/3,0.5)}
];
const legendPos = [{x:1318,ys:[167,224,281,341],tx:[1372,1358,1358,1378]},{x:1318,ys:[635,691,748,809],tx:[1372,1358,1358,1378]},{x:1342,ys:[1152,1209,1268,1328],tx:[1396,1382,1382,1402]}];

const dotColor = {g:'#00ee00', b:'#0000ee', k:'#000000', r:'#ff0000'};
const legColor = {g:'#66cc33', b:'#1f72c8', k:'#000000', r:'#ee1111'};
const legR = {g:14, b:16, k:17, r:21};
const NS = 'http://www.w3.org/2000/svg';
function X(v){ return v*SX; }
function Y(v){ return v*SY; }
function mapX(p,m){ return m.x0 + p[0]*m.sx; }
function mapY(p,m){ return m.y0 + p[1]*m.sy; }
function mk(tag, attrs, parent){ const e=document.createElementNS(NS,tag); for(const k in attrs) e.setAttribute(k, attrs[k]); parent.appendChild(e); return e; }

const root = document.getElementById('panels');
const W = 189, DX = 17, DY = 47;
panels.forEach(function(p){
  const g = mk('g', {}, root);
  
  
  const L=p.L, T=p.T, H=p.H;
  // title
  const t = mk('text', {x:X(p.tx), y:Y(p.ty), 'font-size':60, 'text-anchor':'middle'}, g);
  t.textContent = panelTitles[p.col];
  
  
  // axis lines inside cylinder
  const lines = [
    [L+95,T+1,L+95,T+H-3,'#ffc04d'],
    [L+111,T+49,L+111,T+H+DY,'#b97cc9'],
    [L+9,T+25,L+9,T+H+22,'#70cdef'],
    [L+197,T+27,L+197,T+H+16,'#9fcf72']
  ];
  lines.forEach(function(l){
    const e = mk('line', {x1:X(l[0]),y1:Y(l[1]),x2:X(l[2]),y2:Y(l[3]),stroke:l[4],'stroke-width':3.5}, g);
    
    
  });
  // ellipses
  const e1 = mk('ellipse', {cx:X(L+103),cy:Y(T+25),rx:X(95),ry:Y(24),fill:'none',stroke:'#f58a6a','stroke-width':3}, g);
  
  
  const e2 = mk('ellipse', {cx:X(L+103),cy:Y(T+H+22),rx:X(95),ry:Y(24),fill:'none',stroke:'#2f9bd0','stroke-width':3}, g);
  
  
  // box
  const box = [
    [L,T,L+W,T],[L,T,L,T+H],[L+W,T,L+W,T+H],[L,T+H,L+W,T+H],
    [L+W,T,L+W+DX,T+DY],[L+W+DX,T+DY,L+W+DX,T+H+DY],[L+DX,T+H+DY,L+W+DX,T+H+DY],
    [L,T+H,L+DX,T+H+DY],[L+W,T+H,L+W+DX,T+H+DY]
  ];
  box.forEach(function(b,i){
    const e = mk('line', {x1:X(b[0]),y1:Y(b[1]),x2:X(b[2]),y2:Y(b[3]),stroke:(i==2||i==5)?'#666':'#555','stroke-width':(i==2||i==5)?4:2.5}, g);
    
    
  });
  // points
  p.pts.forEach(function(pt){
    const c = mk('ellipse', {cx:mapX(pt,p.m).toFixed(1), cy:mapY(pt,p.m).toFixed(1), rx:(pt[2]=='r'?8.5:7), ry:(pt[2]=='r'?7.5:6), fill:dotColor[pt[2]]}, g);
    
    
  });
});

const lg = document.getElementById('legends');
legendPos.forEach(function(lp, r){
  const g = mk('g', {}, lg);
  
  
  legendCats.forEach(function(c, i){
    const d = mk('circle', {cx:X(lp.x), cy:Y(lp.ys[i]), r:legR[c], fill:legColor[c], stroke:(c=='k'?'#4aa0e0':'none'), 'stroke-width':2}, g);
    
    
    const t = mk('text', {x:X(lp.tx[i]), y:Y(lp.ys[i])+17, 'font-size':48}, g);
    
    
    const a = mk('tspan', {}, t); a.textContent = legendLabels[i][0];
    const b = mk('tspan', {'font-style':'italic'}, t); b.textContent = legendLabels[i][1];
    const z = mk('tspan', {}, t); z.textContent = legendLabels[i][2];
  });
});
</script>
</body></html>
